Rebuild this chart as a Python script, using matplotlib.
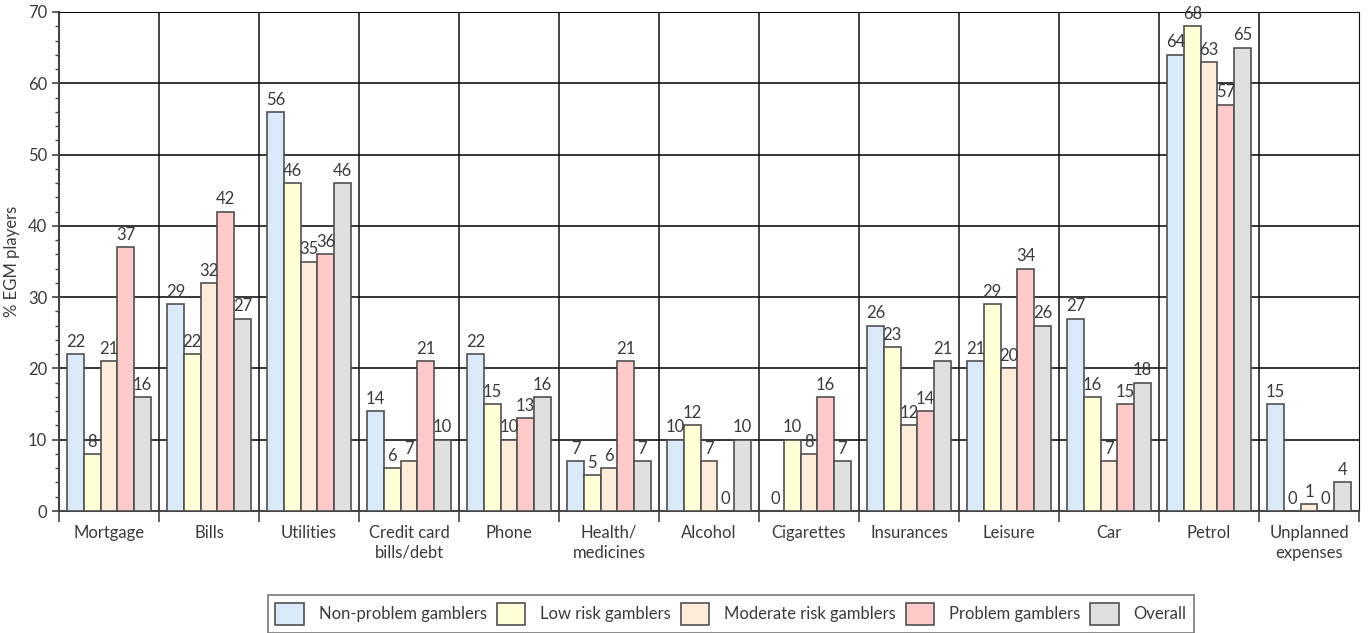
import matplotlib
matplotlib.use("Agg")
import matplotlib.pyplot as plt
import numpy as np
from matplotlib.patches import Patch

plt.rcParams['font.family'] = ['Lato', 'DejaVu Sans']

categories = ["Mortgage", "Bills", "Utilities", "Credit card\nbills/debt", "Phone",
              "Health/\nmedicines", "Alcohol", "Cigarettes", "Insurances", "Leisure",
              "Car", "Petrol", "Unplanned\nexpenses"]
series_names = ["Non-problem gamblers", "Low risk gamblers", "Moderate risk gamblers",
                "Problem gamblers", "Overall"]
non_problem = [22, 29, 56, 14, 22, 7, 10, 0, 26, 21, 27, 64, 15]
low_risk = [8, 22, 46, 6, 15, 5, 12, 10, 23, 29, 16, 68, 0]
moderate_risk = [21, 32, 35, 7, 10, 6, 7, 8, 12, 20, 7, 63, 1]
problem = [37, 42, 36, 21, 13, 21, 0, 16, 14, 34, 15, 57, 0]
overall = [16, 27, 46, 10, 16, 7, 10, 7, 21, 26, 18, 65, 4]
series = [non_problem, low_risk, moderate_risk, problem, overall]
colors = ["#daeafb", "#ffffd8", "#ffecdb", "#ffcaca", "#e0e0e0"]

fig = plt.figure(figsize=(13.69, 6.33), dpi=100)
ax = fig.add_axes([59 / 1369, 122 / 633, 1300 / 1369, 499 / 633])

txt = "#3a3a3a"
fs = 12
n = len(categories)
x = np.arange(n)
w = 0.167
edge = "#505050"
for i, (vals, c) in enumerate(zip(series, colors)):
    pos = x + (i - 2) * w
    ax.bar(pos, vals, width=w, color=c, edgecolor=edge, linewidth=1.2, zorder=3)
    for p, v in zip(pos, vals):
        ax.text(p, v + 0.6, str(v), ha="center", va="bottom", fontsize=fs,
                color=txt, zorder=4)

ax.set_xlim(-0.5, n - 0.5)
ax.set_ylim(0, 70)
ax.set_yticks(np.arange(0, 71, 10))
ax.set_yticks(np.arange(0, 71, 2), minor=True)
ax.set_xticks(x)
ax.set_xticklabels(categories, fontsize=fs, color=txt, linespacing=1.3)
ax.set_xticks(np.arange(-0.5, n, 1), minor=True)
ax.tick_params(axis="x", which="major", length=0, pad=10)
ax.tick_params(axis="x", which="minor", length=8, width=1.2, color="#444444")
ax.tick_params(axis="y", which="major", length=5, width=1.2, labelsize=fs,
               labelcolor=txt, color="#444444")
ax.tick_params(axis="y", which="minor", length=3, width=1, color="#444444")
ax.set_ylabel("% EGM players", fontsize=fs, color=txt, labelpad=6)

for yv in range(10, 71, 10):
    ax.axhline(yv, color="#000000", linewidth=1.1, zorder=1)
for xv in np.arange(0.5, n - 0.5, 1):
    ax.axvline(xv, color="#111111", linewidth=1.1, zorder=1)

for s in ["left", "bottom"]:
    ax.spines[s].set_color("#444444")
    ax.spines[s].set_linewidth(1.5)
ax.spines["right"].set_color("#111111")
ax.spines["top"].set_color("#111111")

handles = [Patch(facecolor=c, edgecolor=edge, linewidth=1.2) for c in colors]
leg = fig.legend(handles, series_names, loc="center", bbox_to_anchor=(731 / 1369, 1 - 614 / 633),
                 ncol=5, frameon=True, fancybox=False, fontsize=fs,
                 handlelength=1.7, handleheight=1.7, handletextpad=0.9, columnspacing=0.6,
                 borderpad=0.45)
leg.get_frame().set_edgecolor("#555555")
leg.get_frame().set_linewidth(1.2)
for t in leg.get_texts():
    t.set_color(txt)

fig.savefig("out.png", dpi=100)
